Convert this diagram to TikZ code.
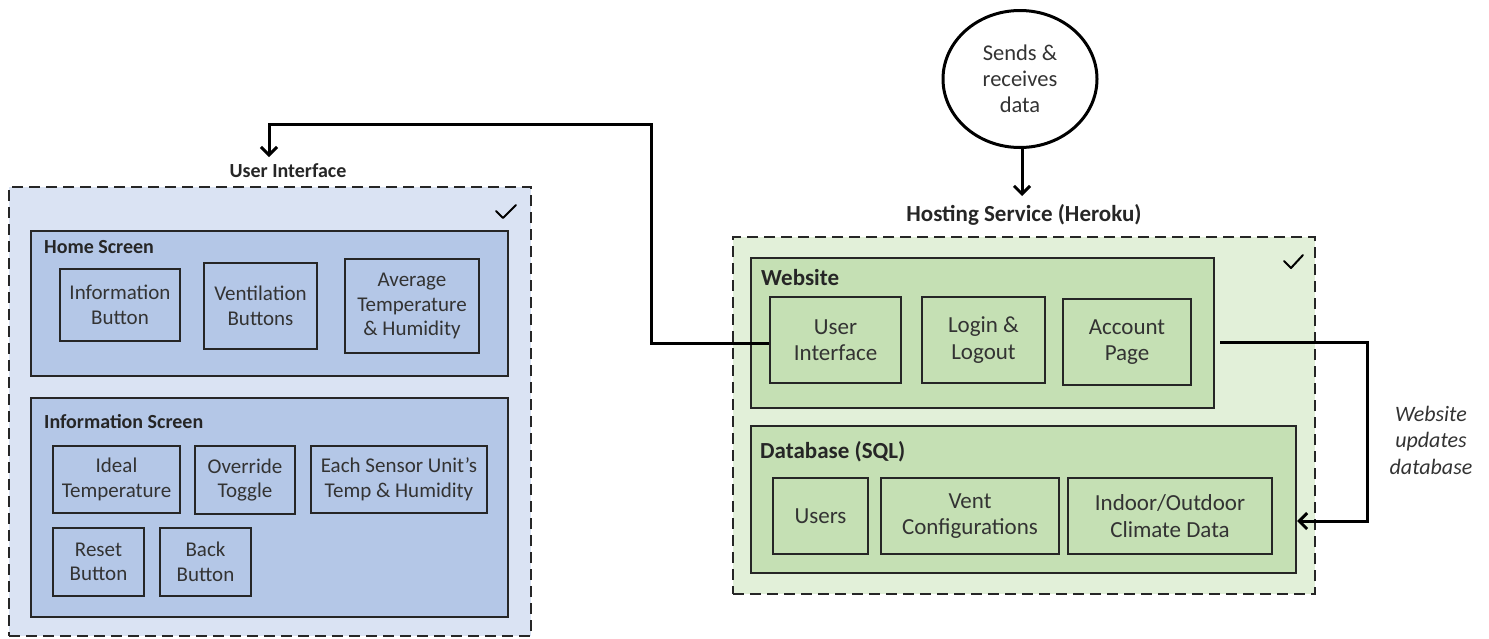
\documentclass[tikz,border=0pt]{standalone}
\usepackage{fontspec}
\setmainfont{Carlito}
\usetikzlibrary{arrows.meta,shapes.geometric}
\definecolor{lblue}{HTML}{DAE3F3}
\definecolor{mblue}{HTML}{B4C7E7}
\definecolor{lgreen}{HTML}{E2F0D9}
\definecolor{mgreen}{HTML}{C5E0B4}
\definecolor{ink}{HTML}{262626}
\definecolor{txt}{HTML}{333333}
\tikzset{
  every node/.style={text=txt},
  outerbox/.style={draw=ink, line width=2.8pt, dash pattern=on 11pt off 6pt, rectangle, inner sep=0pt},
  groupbox/.style={draw=ink, line width=2.8pt, rectangle, inner sep=0pt},
  itembox/.style={draw=ink, line width=2.8pt, rectangle, inner sep=0pt, align=center},
  lefttext/.style={font=\fontsize{21}{24.5}\selectfont},
  righttext/.style={font=\fontsize{23}{26.5}\selectfont},
  grouplabel/.style={anchor=west, inner sep=0pt, text=ink},
  titlelabel/.style={inner sep=0pt, text=ink},
  conn/.style={draw=black, line width=3pt, -{Straight Barb[length=8pt,width=16pt,line width=3pt]}},
  tick/.style={draw=black, line width=2pt, line cap=round, line join=round},
}
\begin{document}
\begin{tikzpicture}[x=1pt,y=-1pt]
\useasboundingbox (0,0) rectangle (1489,638);
% ---------- left: user interface ----------
\node[outerbox, fill=lblue, minimum width=522pt, minimum height=449pt] (outerL) at (270,411.5) {};
\node[titlelabel, font=\fontsize{20}{22}\selectfont\bfseries] (uilabel) at (288,171) {User Interface};
\draw[tick] (496,211) -- (503,218) -- (516,205);
\node[groupbox, fill=mblue, minimum width=477pt, minimum height=145pt] (home) at (269.5,303.5) {};
\node[grouplabel, font=\fontsize{20}{22}\selectfont\bfseries] (homelabel) at (44,247) {Home Screen};
\node[itembox, lefttext, fill=mblue, minimum width=120pt, minimum height=72pt] (infobtn) at (120,305) {Information\\Button};
\node[itembox, lefttext, fill=mblue, minimum width=113pt, minimum height=86pt] (ventbtn) at (260.5,306) {Ventilation\\Buttons};
\node[itembox, lefttext, fill=mblue, minimum width=134pt, minimum height=94pt] (avg) at (412,306) {Average\\Temperature\\\& Humidity};
\node[groupbox, fill=mblue, minimum width=477pt, minimum height=219pt] (infoscr) at (269.5,507.5) {};
\node[grouplabel, font=\fontsize{20}{22}\selectfont\bfseries] (infolabel) at (44,422) {Information Screen};
\node[itembox, lefttext, fill=mblue, minimum width=127pt, minimum height=67pt] (ideal) at (116.5,479.5) {Ideal\\Temperature};
\node[itembox, lefttext, fill=mblue, minimum width=100pt, minimum height=68pt] (override) at (245,480) {Override\\Toggle};
\node[itembox, lefttext, fill=mblue, minimum width=176pt, minimum height=67pt] (each) at (399,479.5) {Each Sensor Unit’s\\Temp \& Humidity};
\node[itembox, lefttext, fill=mblue, minimum width=91pt, minimum height=68pt] (reset) at (98.5,562) {Reset\\Button};
\node[itembox, lefttext, fill=mblue, minimum width=91pt, minimum height=68pt] (back) at (205.5,562) {Back\\Button};
% ---------- right: hosting service ----------
\node[draw=black, line width=3pt, ellipse, minimum width=154pt, minimum height=137pt, inner sep=0pt, align=center, font=\fontsize{22.5}{26}\selectfont] (circ) at (1020,79) {Sends \&\\receives\\data};
\node[titlelabel, font=\fontsize{23}{25}\selectfont\bfseries] (hostlabel) at (1024,215) {Hosting Service (Heroku)};
\node[outerbox, fill=lgreen, minimum width=582pt, minimum height=357pt] (outerR) at (1024,415.5) {};
\draw[tick] (1284,261) -- (1291,268) -- (1303,255);
\node[groupbox, fill=mgreen, minimum width=463pt, minimum height=150pt] (website) at (982.5,333) {};
\node[grouplabel, font=\fontsize{23}{25}\selectfont\bfseries] (weblabel) at (761,278) {Website};
\node[itembox, righttext, fill=mgreen, minimum width=131pt, minimum height=86pt] (ui) at (835.5,340) {User\\Interface};
\node[itembox, righttext, fill=mgreen, minimum width=123pt, minimum height=86pt] (login) at (983.5,340) {Login \&\\Logout};
\node[itembox, righttext, fill=mgreen, minimum width=128pt, minimum height=86pt] (account) at (1127,342) {Account\\Page};
\node[groupbox, fill=mgreen, minimum width=545pt, minimum height=147pt] (db) at (1023.5,499.5) {};
\node[grouplabel, font=\fontsize{23}{25}\selectfont\bfseries] (dblabel) at (760,452) {Database (SQL)};
\node[itembox, righttext, fill=mgreen, minimum width=95pt, minimum height=76pt] (users) at (820.5,516) {Users};
\node[itembox, righttext, fill=mgreen, minimum width=178pt, minimum height=76pt] (ventc) at (970,516) {Vent\\Configurations};
\node[itembox, righttext, fill=mgreen, minimum width=204pt, minimum height=76pt] (climate) at (1170,516) {Indoor/Outdoor\\Climate Data};
\node[align=center, inner sep=0pt, font=\fontsize{22}{26.5}\selectfont\itshape] (updlabel) at (1431,440) {Website\\updates\\database};
% ---------- connectors ----------
\coordinate (uitip) at (269,157);
\coordinate (hosttip) at (1022,196);
\coordinate (wsout) at (1220,342);
\coordinate (dbin) at (1297,521);
\draw[conn] (ui.west |- 0,343) -| (651,124) -| (uitip);
\draw[conn] (circ.south -| hosttip) -- (hosttip);
\draw[conn] (wsout) -| (1367,521) -- (dbin);
\end{tikzpicture}
\end{document}
